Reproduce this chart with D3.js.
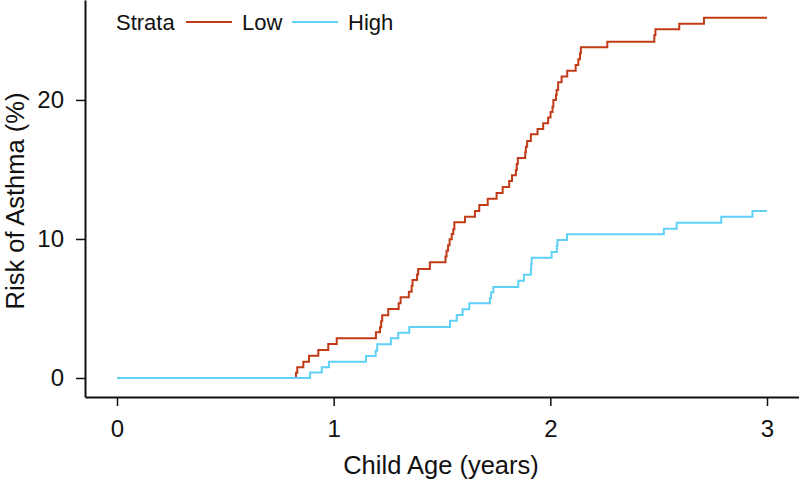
<!DOCTYPE html>
<meta charset="utf-8">
<style>
  body { margin: 0; background: #fff; }
  text { font-family: "Liberation Sans", Arial, sans-serif; fill: #111; }
  .line { fill: none; stroke-width: 2px; }
</style>

<body>

  <!-- load the d3.js library -->
  <script src="https://d3js.org/d3.v7.min.js"></script>
  <script>
    // cumulative risk (%) after each step, by child age (years)
    var lowAge = [0, 0.826, 0.832, 0.86, 0.886, 0.929, 0.975, 1.014, 1.195, 1.214, 1.219, 1.224,
      1.252, 1.30, 1.309, 1.347, 1.36, 1.364, 1.385, 1.39, 1.444, 1.516, 1.521, 1.528, 1.535,
      1.545, 1.552, 1.557, 1.606, 1.652, 1.672, 1.711, 1.752, 1.78, 1.81, 1.823, 1.841, 1.845,
      1.85, 1.884, 1.887, 1.893, 1.91, 1.941, 1.967, 1.99, 2.001, 2.01, 2.014, 2.026, 2.029,
      2.036, 2.052, 2.078, 2.117, 2.129, 2.137, 2.141, 2.263, 2.48, 2.485, 2.595, 2.709, 3.0];
    var lowRisk = [0, 0.38, 0.77, 1.17, 1.6, 2.01, 2.45, 2.86, 3.29, 3.65, 4.08, 4.51,
      4.96, 5.37, 5.81, 6.21, 6.63, 7.05, 7.45, 7.84, 8.32, 8.74, 9.16, 9.55, 9.98,
      10.35, 10.7, 11.2, 11.6, 12.01, 12.45, 12.9, 13.31, 13.74, 14.17, 14.58, 14.96, 15.4,
      15.83, 16.24, 16.64, 17.05, 17.53, 17.91, 18.32, 18.73, 19.14, 19.52, 20.0, 20.36, 20.72,
      21.27, 21.68, 22.1, 22.52, 22.93, 23.36, 23.79, 24.19, 24.65, 25.09, 25.49, 25.92, 25.92];

    var highAge = [0, 0.891, 0.945, 0.978, 1.149, 1.194, 1.201, 1.264, 1.298, 1.349, 1.537,
      1.568, 1.595, 1.626, 1.721, 1.727, 1.737, 1.852, 1.878, 1.91, 1.912, 1.914, 2.006,
      2.03, 2.033, 2.077, 2.524, 2.583, 2.789, 2.933, 3.0];
    var highRisk = [0, 0.4, 0.77, 1.17, 1.58, 1.96, 2.42, 2.86, 3.26, 3.67, 4.12,
      4.53, 4.94, 5.37, 5.76, 6.17, 6.55, 7.0, 7.43, 7.84, 8.25, 8.65, 9.06,
      9.52, 9.93, 10.34, 10.74, 11.17, 11.6, 12.01, 12.01];

    var strata = ["Low", "High"];
    var colors = ["#c23b16", "#5fd0f6"];
    var xTicks = [0, 1, 2, 3];
    var yTicks = [0, 10, 20];

    var width = 799,
      height = 481;

    var svg = d3.select("body").append("svg")
      .attr("width", width)
      .attr("height", height);

    // set the ranges (axis lines run past the data on both ends)
    var x = d3.scaleLinear().domain([-0.1477, 3.1477]).range([85, 799]);
    var y = d3.scaleLinear().domain([-1.367, 27.19]).range([397, 0]);

    // the curves
    var line = d3.line()
      .curve(d3.curveStepAfter)
      .x(function(d) { return x(d[0]); })
      .y(function(d) { return y(d[1]); });

    var series = [
      d3.zip(lowAge, lowRisk),
      d3.zip(highAge, highRisk)
    ];

    svg.selectAll(".line")
      .data(series)
      .enter().append("path")
      .attr("class", "line")
      .attr("stroke", function(d, i) { return colors[i]; })
      .attr("d", line);

    // Add the X Axis
    var xAxis = svg.append("g")
      .attr("transform", "translate(0,397)")
      .call(d3.axisBottom(x).tickValues(xTicks).tickFormat(d3.format("d"))
        .tickSize(9).tickSizeOuter(0).tickPadding(14));

    // Add the Y Axis
    var yAxis = svg.append("g")
      .attr("transform", "translate(85,0)")
      .call(d3.axisLeft(y).tickValues(yTicks).tickFormat(d3.format("d"))
        .tickSize(9).tickSizeOuter(0).tickPadding(12));

    [xAxis, yAxis].forEach(function(g) {
      g.select(".domain").attr("stroke", "#111").attr("stroke-width", 2);
      g.selectAll(".tick line").attr("stroke", "#111").attr("stroke-width", 1.5);
      g.selectAll(".tick text").attr("font-size", 24).attr("fill", "#111")
        .attr("font-family", "Liberation Sans, Arial, sans-serif");
    });

    // axis titles
    svg.append("text")
      .attr("x", 441)
      .attr("y", 474)
      .attr("text-anchor", "middle")
      .attr("font-size", 25.5)
      .text("Child Age (years)");

    svg.append("text")
      .attr("transform", "translate(24,201) rotate(-90)")
      .attr("text-anchor", "middle")
      .attr("font-size", 25.5)
      .text("Risk of Asthma (%)");

    // legend
    var legend = svg.append("g");
    legend.append("text")
      .attr("x", 116)
      .attr("y", 30)
      .attr("font-size", 22)
      .text("Strata");

    var lx = [186, 292];
    strata.forEach(function(s, i) {
      legend.append("line")
        .attr("x1", lx[i]).attr("x2", lx[i] + 46)
        .attr("y1", 22).attr("y2", 22)
        .attr("stroke", colors[i])
        .attr("stroke-width", 2);
      legend.append("text")
        .attr("x", lx[i] + 56)
        .attr("y", 30)
        .attr("font-size", 22)
        .text(s);
    });
  </script>
</body>
